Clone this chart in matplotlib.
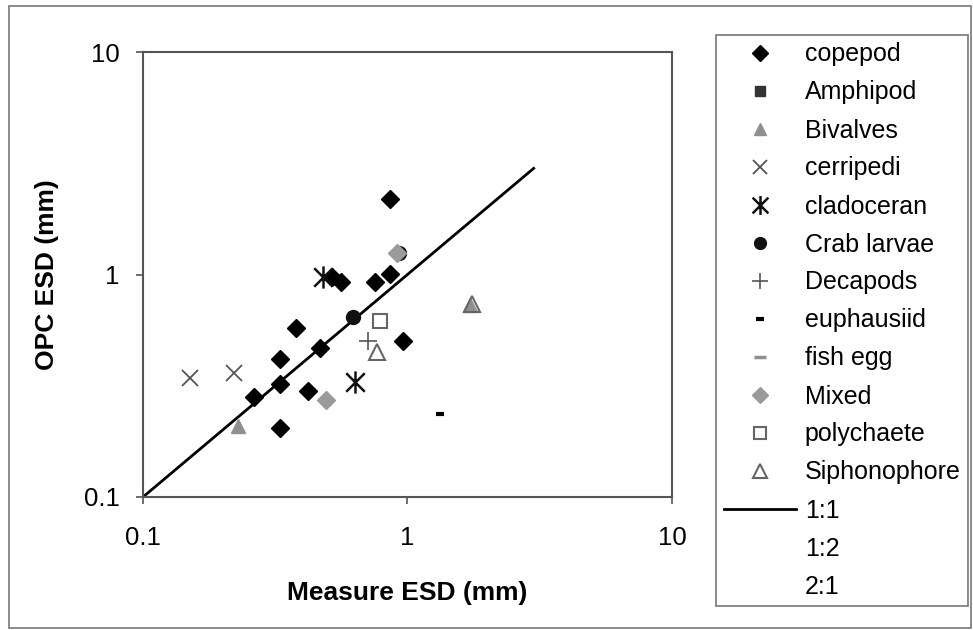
import matplotlib
matplotlib.use("Agg")
import matplotlib.pyplot as plt
from matplotlib.lines import Line2D
from matplotlib.patches import Rectangle
from matplotlib.path import Path
from matplotlib.ticker import FixedLocator, NullLocator

plt.rcParams['font.family'] = ['Liberation Sans', 'DejaVu Sans']

# measured ESD (x) vs OPC ESD (y), mm
copepod_x = [0.86, 0.86, 0.755, 0.52, 0.56, 0.38, 0.96, 0.467, 0.33, 0.33, 0.263, 0.42, 0.33]
copepod_y = [2.18, 1.01, 0.93, 0.97, 0.93, 0.573, 0.50, 0.466, 0.417, 0.322, 0.282, 0.30, 0.205]
bivalves_x = [0.229, 1.72]
bivalves_y = [0.209, 0.73]
cerripedi_x = [0.15, 0.221]
cerripedi_y = [0.344, 0.359]
cladoceran_x = [0.48, 0.633]
cladoceran_y = [0.97, 0.33]
crab_x = [0.624, 0.925]
crab_y = [0.642, 1.25]
decapods_x = [0.71]
decapods_y = [0.50]
euphausiid_x = [1.33]
euphausiid_y = [0.237]
mixed_x = [0.91, 0.49]
mixed_y = [1.25, 0.273]
polychaete_x = [0.79]
polychaete_y = [0.62]
siphono_x = [0.765, 1.75]
siphono_y = [0.45, 0.74]
one_to_one = [0.1, 3.0]

# X with a vertical bar, like the spreadsheet "asterisk" marker
star = Path([(-1, -1), (1, 1), (-1, 1), (1, -1), (0, -1.2), (0, 1.2)],
            [Path.MOVETO, Path.LINETO, Path.MOVETO, Path.LINETO, Path.MOVETO, Path.LINETO])

fig = plt.figure(figsize=(9.73, 6.3), dpi=100)
fig.patches.append(Rectangle((9 / 973, 2 / 630), 962 / 973, 622 / 630, transform=fig.transFigure,
                             fill=False, edgecolor='#777777', linewidth=1.2))

ax = fig.add_axes([143 / 973, 133 / 630, 529 / 973, 445 / 630])
ax.set_xscale('log')
ax.set_yscale('log')
ax.set_xlim(0.1, 10)
ax.set_ylim(0.1, 10)

gray = '#8f8f8f'
h_line, = ax.plot(one_to_one, one_to_one, color='black', linewidth=2, label='1:1', zorder=2)
h_crab, = ax.plot(crab_x, crab_y, 'o', color='#111111', ms=10, ls='none', label='Crab larvae', zorder=3)
h_cop, = ax.plot(copepod_x, copepod_y, 'D', color='black', ms=9.5, ls='none', label='copepod', zorder=4)
h_amph, = ax.plot([], [], 's', color='#333333', ms=8, ls='none', label='Amphipod')
h_biv, = ax.plot(bivalves_x, bivalves_y, '^', color=gray, ms=10, ls='none', label='Bivalves', zorder=3)
h_cer, = ax.plot(cerripedi_x, cerripedi_y, 'x', color='#555555', ms=12, mew=1.3, ls='none', label='cerripedi', zorder=4)
h_cla, = ax.plot(cladoceran_x, cladoceran_y, marker=star, color='#111111', ms=16, mew=1.8, ls='none',
                 label='cladoceran', zorder=4)
h_dec, = ax.plot(decapods_x, decapods_y, '+', color='#555555', ms=13, mew=1.2, ls='none', label='Decapods', zorder=4)
h_eup, = ax.plot(euphausiid_x, euphausiid_y, '_', color='black', ms=6, mew=3, ls='none', label='euphausiid', zorder=4)
h_fish, = ax.plot([], [], '_', color=gray, ms=10, mew=2.5, ls='none', label='fish egg')
h_mix, = ax.plot(mixed_x, mixed_y, 'D', color='#9a9a9a', ms=9.5, ls='none', label='Mixed', zorder=5)
h_poly, = ax.plot(polychaete_x, polychaete_y, 's', mfc='white', mec='#666666', mew=1.5, ms=10, ls='none',
                  label='polychaete', zorder=4)
h_sip, = ax.plot(siphono_x, siphono_y, '^', mfc='none', mec='#666666', mew=1.5, ms=12, ls='none',
                 label='Siphonophore', zorder=4)
h_12 = Line2D([], [], color='none', label='1:2')
h_21 = Line2D([], [], color='none', label='2:1')

for s in ax.spines.values():
    s.set_color('#555555')
    s.set_linewidth(1.5)

ticks = [0.1, 1, 10]
labels = ['0.1', '1', '10']
ax.xaxis.set_major_locator(FixedLocator(ticks))
ax.yaxis.set_major_locator(FixedLocator(ticks))
ax.xaxis.set_minor_locator(NullLocator())
ax.yaxis.set_minor_locator(NullLocator())
ax.set_xticklabels(labels)
ax.set_yticklabels(labels)
ax.tick_params(axis='both', direction='out', length=5, width=1.2, color='#555555', labelsize=18.5)
ax.tick_params(axis='x', pad=16)
ax.tick_params(axis='y', pad=12)

ax.set_xlabel('Measure ESD (mm)', fontsize=19, fontweight='bold', labelpad=22)
ax.set_ylabel('OPC ESD (mm)', fontsize=19, fontweight='bold', labelpad=18)

handles = [h_cop, h_amph, h_biv, h_cer, h_cla, h_crab, h_dec, h_eup, h_fish, h_mix, h_poly, h_sip, h_line, h_12, h_21]
leg = fig.legend(handles=handles, labels=[h.get_label() for h in handles],
                 loc='upper left', bbox_to_anchor=(716 / 973, 1 - 35 / 630), borderaxespad=0,
                 fontsize=18, frameon=True, fancybox=False, edgecolor='#555555',
                 handlelength=2.9, handletextpad=0.35, labelspacing=0.56, borderpad=0.3,
                 markerscale=0.85)
leg.get_frame().set_linewidth(1.2)

fig.savefig('out.png', dpi=100)
